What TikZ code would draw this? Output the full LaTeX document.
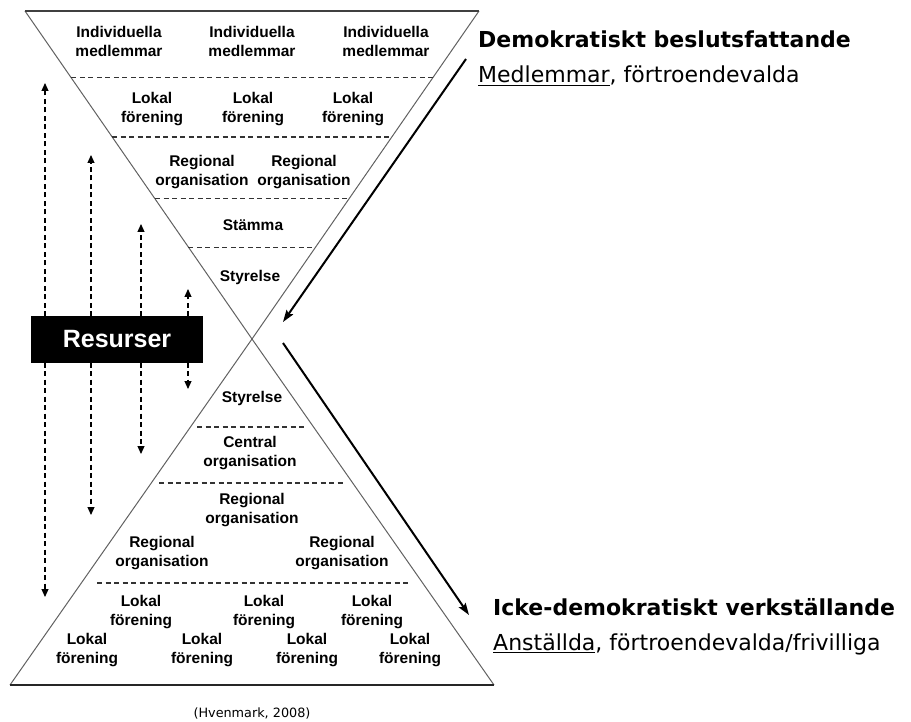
\documentclass[tikz,border=0pt]{standalone}
\usepackage{fontspec}
\setmainfont{Liberation Sans}
\newfontfamily\sidefont{DejaVu Sans}
\usetikzlibrary{calc,arrows.meta}
\begin{document}
\begin{tikzpicture}[x=1pt,y=-1pt,
  lbl/.style={font=\fontsize{15.5}{19}\selectfont\bfseries, align=center, inner sep=0pt},
  edge/.style={draw=black!62, line width=1pt},
  sep/.style={draw=black!80, line width=1.1pt, dash pattern=on 5pt off 3.5pt},
  res/.style={draw=black, line width=1.1pt, dash pattern=on 5pt off 3.5pt, -{Triangle[length=8pt,width=7pt]}},
  flow/.style={draw=black, line width=2pt, -{Stealth[length=12pt,width=8pt,inset=2pt]}},
  head/.style={font=\sidefont\fontsize{22}{25}\selectfont\bfseries, anchor=base west, inner sep=0pt},
  sub/.style={font=\sidefont\fontsize{22}{25}\selectfont, anchor=base west, inner sep=0pt}]
\useasboundingbox (0,0) rectangle (911,722);

% hourglass corners
\coordinate (TL) at (25,11);
\coordinate (TR) at (479,11);
\coordinate (X) at (252,339);
\coordinate (BL) at (10,685);
\coordinate (BR) at (494,685);

% upper (inverted) triangle
\draw[edge] (TL) -- (X) -- (TR);
\draw[draw=black!75, line width=1.2pt] (TL) -- (TR);
\foreach \t in {0.204,0.384,0.573,0.720}
  \draw[sep] ($(TL)!\t!(X)$) -- ($(TR)!\t!(X)$);

% lower triangle
\draw[edge] (BL) -- (X) -- (BR);
\draw[draw=black!85, line width=1.5pt] (BL) -- (BR);
\draw[sep] (197,427) -- (305,427);
\draw[sep] (159,483) -- (345,483);
\draw[sep] (97,583) -- (410,583);

% upper levels
\node[lbl] (im1) at (119,41) {Individuella\\medlemmar};
\node[lbl] (im2) at (252,41) {Individuella\\medlemmar};
\node[lbl] (im3) at (386,41) {Individuella\\medlemmar};
\node[lbl] (lf1) at (152,109) {Lokal\\förening};
\node[lbl] (lf2) at (253,109) {Lokal\\förening};
\node[lbl] (lf3) at (353,109) {Lokal\\förening};
\node[lbl] (ro1) at (202,172) {Regional\\organisation};
\node[lbl] (ro2) at (304,172) {Regional\\organisation};
\node[lbl] (st) at (253,225) {Stämma};
\node[lbl] (sy1) at (250,277) {Styrelse};

% lower levels
\node[lbl] (sy2) at (252,398) {Styrelse};
\node[lbl] (co) at (250,453) {Central\\organisation};
\node[lbl] (rc) at (252,510) {Regional\\organisation};
\node[lbl] (rl) at (162,553) {Regional\\organisation};
\node[lbl] (rr) at (342,553) {Regional\\organisation};
\node[lbl] (la1) at (141,612) {Lokal\\förening};
\node[lbl] (la2) at (264,612) {Lokal\\förening};
\node[lbl] (la3) at (372,612) {Lokal\\förening};
\node[lbl] (lb1) at (87,650) {Lokal\\förening};
\node[lbl] (lb2) at (202,650) {Lokal\\förening};
\node[lbl] (lb3) at (307,650) {Lokal\\förening};
\node[lbl] (lb4) at (410,650) {Lokal\\förening};

% resources box and dashed arrows
\node[fill=black, minimum width=172pt, minimum height=46pt, inner sep=0pt,
      text=white, font=\fontsize{25}{28}\selectfont\bfseries] (res) at (117,339.5) {Resurser};
\coordinate (u1) at (45,83);
\coordinate (u2) at (91,155);
\coordinate (u3) at (141,224);
\coordinate (u4) at (188,289);
\coordinate (d1) at (45,597);
\coordinate (d2) at (91,515);
\coordinate (d3) at (141,454);
\coordinate (d4) at (188,389);
\foreach \c in {u1,u2,u3,u4}
  \draw[res] (res.north -| \c) -- (\c);
\foreach \c in {d1,d2,d3,d4}
  \draw[res] (res.south -| \c) -- (\c);

% side headings
\node[head] (dem) at (478,48) {Demokratiskt beslutsfattande};
\node[sub] (demsub) at (478,83) {\underline{Medlemmar}, förtroendevalda};
\node[head] (ick) at (493,615) {Icke-demokratiskt verkställande};
\node[sub] (icksub) at (493,650) {\underline{Anställda}, förtroendevalda/frivilliga};

% flow arrows
\coordinate (f1s) at (466,59);
\coordinate (f1e) at (283,322);
\coordinate (f2s) at (283,343);
\coordinate (f2e) at (469,615);
\draw[flow] (f1s) -- (f1e);
\draw[flow] (f2s) -- (f2e);

% source
\node[font=\sidefont\fontsize{12.8}{14}\selectfont, inner sep=0pt] (src) at (252,713) {(Hvenmark, 2008)};
\end{tikzpicture}
\end{document}
